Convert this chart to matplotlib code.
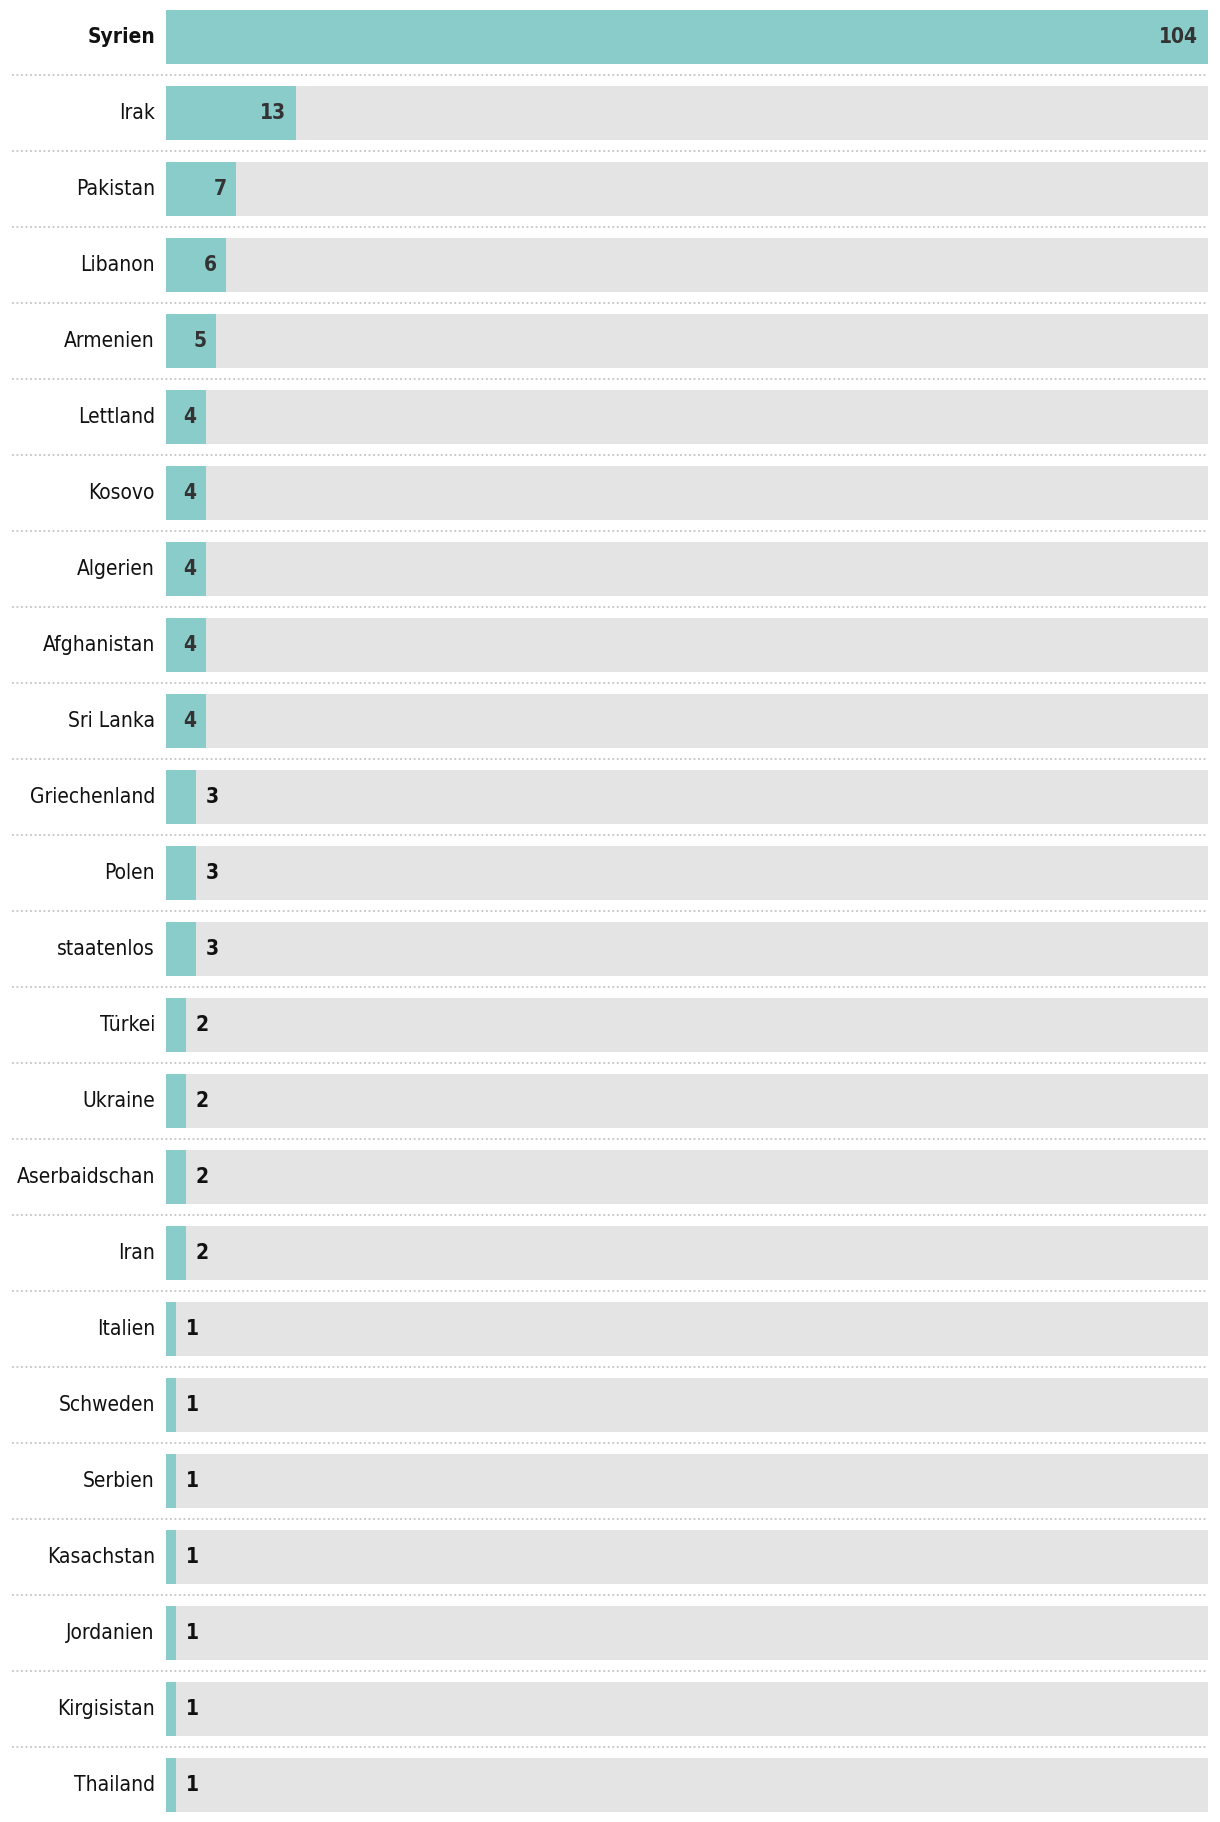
import matplotlib
matplotlib.use('Agg')
import matplotlib.pyplot as plt
import matplotlib.transforms as mtransforms

countries = ['Syrien', 'Irak', 'Pakistan', 'Libanon', 'Armenien', 'Lettland', 'Kosovo',
             'Algerien', 'Afghanistan', 'Sri Lanka', 'Griechenland', 'Polen', 'staatenlos',
             'Türkei', 'Ukraine', 'Aserbaidschan', 'Iran', 'Italien', 'Schweden', 'Serbien',
             'Kasachstan', 'Jordanien', 'Kirgisistan', 'Thailand']
values = [104, 13, 7, 6, 5, 4, 4, 4, 4, 4, 3, 3, 3, 2, 2, 2, 2, 1, 1, 1, 1, 1, 1, 1]

teal = '#8accca'
grey = '#e4e4e4'
plt.rcParams['font.family'] = ['DejaVu Sans']
plt.rcParams['font.stretch'] = 'condensed'

W, H = 1220, 1822
fig = plt.figure(figsize=(W / 100, H / 100), dpi=100)
left, right = 166, 1208
ax = fig.add_axes([left / W, 0, (right - left) / W, 1])

n = len(countries)
pitch = 76
top_center = 37
ax.set_xlim(0, max(values))
ax.set_ylim(n - 1 + (H - (top_center + (n - 1) * pitch)) / pitch, -top_center / pitch)
ax.axis('off')

ypos = list(range(n))
bh = 54 / pitch
ax.barh(ypos, [max(values)] * n, height=bh, color=grey, zorder=1)
ax.barh(ypos, values, height=bh, color=teal, zorder=2)

# dotted separators across the whole width
trans = mtransforms.blended_transform_factory(fig.transFigure, ax.transData)
for i in range(n - 1):
    ax.plot([12 / W, right / W], [i + 0.5, i + 0.5], transform=trans,
            color='#c4c4c4', linestyle=(0, (1, 1.5)), linewidth=1.3, clip_on=False)

for i, (c, v) in enumerate(zip(countries, values)):
    ax.annotate(c, (0, i), xytext=(-8, 0), textcoords='offset points',
                ha='right', va='center', fontsize=15, color='#111111',
                fontstretch='condensed', fontweight='bold' if i == 0 else 'normal')
    if v >= 4:
        ax.annotate(str(v), (v, i), xytext=(-7, 0), textcoords='offset points',
                    ha='right', va='center', fontsize=15, fontweight='bold', color='#333333',
                    fontstretch='condensed')
    else:
        ax.annotate(str(v), (v, i), xytext=(7, 0), textcoords='offset points',
                    ha='left', va='center', fontsize=15, fontweight='bold', color='#111111',
                    fontstretch='condensed')

plt.savefig('out.png', dpi=100)
